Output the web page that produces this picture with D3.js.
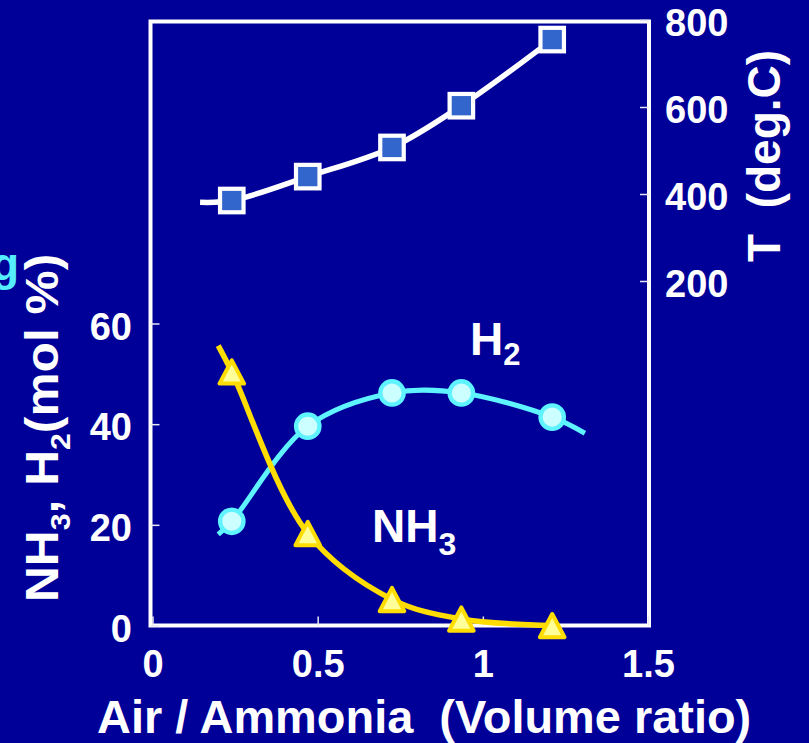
<!DOCTYPE html>
<html>
<head>
<meta charset="utf-8">
<script src="https://cdn.jsdelivr.net/npm/d3@7"></script>
<style>
  html, body { margin: 0; padding: 0; background: #000099; }
  svg { display: block; }
  text { font-family: "Liberation Sans", Arial, sans-serif; font-weight: bold; white-space: pre; }
</style>
</head>
<body>
<svg id="chart" width="809" height="743"></svg>
<script>
// ---- data ----
const ratioPoints = [0.24, 0.47, 0.725, 0.935, 1.21];   // Air / Ammonia volume ratio
const tempValues  = [385, 440, 507, 603, 755];          // T (deg.C), squares, right axis
const h2Values    = [20.7, 39.6, 46.2, 46.2, 41.4];     // H2 mol %, circles
const nh3Values   = [50.4, 18.3, 5.2, 1.3, 0.0];        // NH3 mol %, triangles

// fitted-curve end points (as drawn in the picture)
const tempFitStart = [0.144, 381];
const h2FitStart   = [0.199, 18.1];
const h2FitEnd     = [1.309, 38.2];
const nh3FitStart  = [0.199, 55.6];

const xTickValues = [0, 0.5, 1, 1.5];
const xTickLabels = ["0", "0.5", "1", "1.5"];
const leftTickValues = [0, 20, 40, 60];
const rightTickValues = [200, 400, 600, 800];

// ---- layout ----
const svg = d3.select("#chart");
const frame = {left: 150.5, right: 649, top: 21.5, bottom: 625.5};

const x  = d3.scaleLinear().domain([0, 1.5]).range([152.5, 648]);
const yL = d3.scaleLinear().domain([0, 120]).range([frame.bottom, frame.top]);
const yR = d3.scaleLinear().domain([0, 800]).range([368, 20]);

svg.append("rect").attr("width", 809).attr("height", 743).attr("fill", "#000099");

// frame
svg.append("rect")
  .attr("x", frame.left).attr("y", frame.top)
  .attr("width", frame.right - frame.left).attr("height", frame.bottom - frame.top)
  .attr("fill", "none").attr("stroke", "#ffffff").attr("stroke-width", 4);

function styleAxis(g) {
  g.select(".domain").remove();
  g.selectAll(".tick line").attr("stroke", "#e8e8f0").attr("stroke-width", 1.5);
  g.selectAll(".tick text").attr("fill", "#ffffff")
    .style("font-family", "'Liberation Sans', Arial, sans-serif")
    .style("font-weight", "bold").style("font-size", "38px");
}

// bottom axis
svg.append("g").attr("transform", `translate(0,${frame.bottom})`)
  .call(d3.axisBottom(x).tickValues(xTickValues)
    .tickFormat((d, i) => xTickLabels[i]).tickSize(-9).tickPadding(25))
  .call(styleAxis);

// left axis
svg.append("g").attr("transform", `translate(${frame.left},0)`)
  .call(d3.axisLeft(yL).tickValues(leftTickValues).tickSize(-9).tickPadding(18.5))
  .call(styleAxis)
  .call(g => g.selectAll(".tick text").attr("dy", "0.41em"));

// right axis
svg.append("g").attr("transform", `translate(${frame.right},0)`)
  .call(d3.axisRight(yR).tickValues(rightTickValues).tickSize(-9).tickPadding(16))
  .call(styleAxis)
  .call(g => g.selectAll(".tick text").attr("dy", "0.41em"));

// ---- curves ----
const tempFit = [tempFitStart].concat(ratioPoints.map((r, i) => [r, tempValues[i]]));
const h2Fit   = [h2FitStart].concat(ratioPoints.map((r, i) => [r, h2Values[i]]), [h2FitEnd]);
const nh3Fit  = [nh3FitStart].concat(ratioPoints.map((r, i) => [r, nh3Values[i]]));

const lineR = d3.line().x(d => x(d[0])).y(d => yR(d[1])).curve(d3.curveCatmullRom.alpha(0.5));
const lineL = d3.line().x(d => x(d[0])).y(d => yL(d[1])).curve(d3.curveCatmullRom.alpha(0.5));

svg.append("path").attr("d", lineR(tempFit)).attr("fill", "none")
  .attr("stroke", "#ffffff").attr("stroke-width", 5.5);
svg.append("path").attr("d", lineL(h2Fit)).attr("fill", "none")
  .attr("stroke", "#5ff2ff").attr("stroke-width", 5);
svg.append("path").attr("d", lineL(nh3Fit)).attr("fill", "none")
  .attr("stroke", "#ffdd00").attr("stroke-width", 5.5);

// ---- markers ----
svg.append("g").selectAll("rect").data(ratioPoints).join("rect")
  .attr("x", (d) => x(d) - 11.75).attr("y", (d, i) => yR(tempValues[i]) - 11.75)
  .attr("width", 23.5).attr("height", 23.5)
  .attr("fill", "#3366cc").attr("stroke", "#ffffff").attr("stroke-width", 4.2);

svg.append("g").selectAll("circle").data(ratioPoints).join("circle")
  .attr("cx", d => x(d)).attr("cy", (d, i) => yL(h2Values[i])).attr("r", 11.7)
  .attr("fill", "#ccffff").attr("stroke", "#5ff2ff").attr("stroke-width", 4.3);

const tri = "M0,-11.5L12.3,11.8L-12.3,11.8Z";
svg.append("g").selectAll("path").data(ratioPoints).join("path")
  .attr("transform", (d, i) => `translate(${x(d)},${yL(nh3Values[i])})`)
  .attr("d", tri)
  .attr("fill", "#ffff99").attr("stroke", "#ffdd00").attr("stroke-width", 4)
  .attr("stroke-linejoin", "round");

// ---- series labels ----
const h2Label = svg.append("text").attr("x", 470).attr("y", 355)
  .attr("fill", "#ffffff").style("font-size", "46px");
h2Label.append("tspan").text("H");
h2Label.append("tspan").attr("dy", 10).style("font-size", "31px").text("2");

const nh3Label = svg.append("text").attr("x", 372).attr("y", 542)
  .attr("fill", "#ffffff").style("font-size", "46px");
nh3Label.append("tspan").text("NH");
nh3Label.append("tspan").attr("dy", 13).style("font-size", "32px").text("3");

// ---- axis titles ----
svg.append("text")
  .attr("transform", "translate(97,733) scale(1.02,1)")
  .attr("fill", "#ffffff").style("font-size", "46px")
  .text("Air / Ammonia  (Volume ratio)");

const lt = svg.append("text")
  .attr("transform", "translate(58,602) rotate(-90) scale(1.08,1)")
  .attr("fill", "#ffffff").style("font-size", "46px");
lt.append("tspan").text("NH");
lt.append("tspan").attr("dy", 12).style("font-size", "28px").text("3");
lt.append("tspan").attr("dy", -12).text(", H");
lt.append("tspan").attr("dy", 12).style("font-size", "28px").text("2");
lt.append("tspan").attr("dy", -12).text("(mol %)");

svg.append("text")
  .attr("transform", "translate(780,262) rotate(-90)")
  .attr("fill", "#ffffff").style("font-size", "46px")
  .text("T  (deg.C)");

// cyan text cut off at the left edge (as in the reference)
svg.append("text").attr("x", 19).attr("y", 280).attr("text-anchor", "end")
  .attr("fill", "#55eeff").style("font-size", "46px").text("g");
</script>
</body>
</html>
